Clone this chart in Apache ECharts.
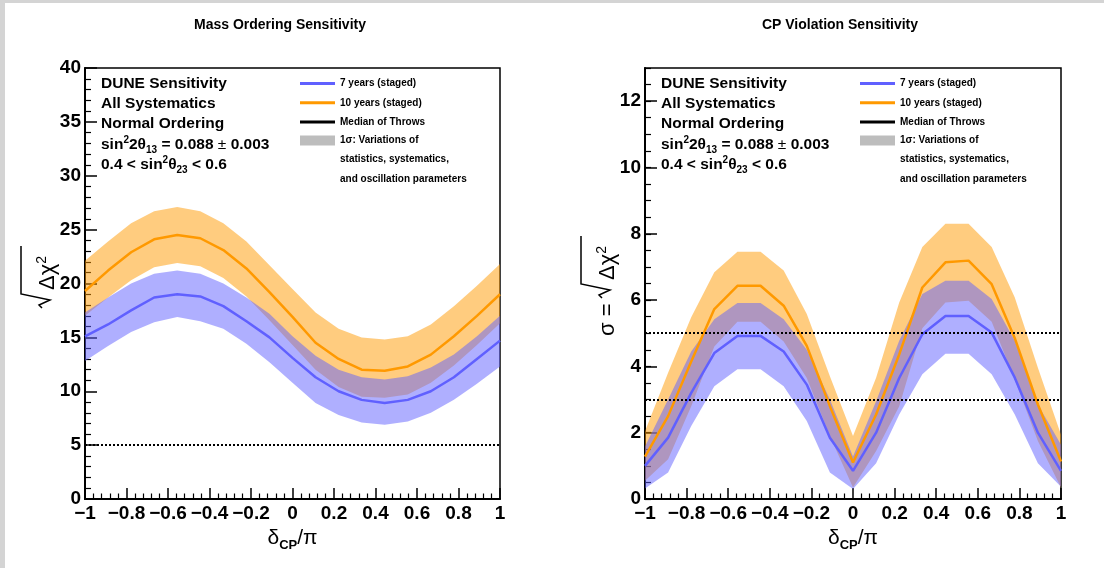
<!DOCTYPE html>
<html><head><meta charset="utf-8">
<script src="https://cdn.jsdelivr.net/npm/echarts@6/dist/echarts.min.js"></script>
<style>html,body{margin:0;padding:0;background:#fff}#c{width:1104px;height:568px}</style>
</head><body><div id="c"></div>
<script>
// ---------- data ----------
const deltaCP = [-1, -0.8889, -0.7778, -0.6667, -0.5556, -0.4444, -0.3333, -0.2222, -0.1111, 0, 0.1111, 0.2222, 0.3333, 0.4444, 0.5556, 0.6667, 0.7778, 0.8889, 1];
const xTicks = [-1, -0.8, -0.6, -0.4, -0.2, 0, 0.2, 0.4, 0.6, 0.8, 1];

// Mass ordering sensitivity (sqrt(dchi2))
const mo10Median = [19.3, 21.2, 22.9, 24.1, 24.5, 24.2, 23.1, 21.4, 19.2, 16.9, 14.5, 13.0, 12.0, 11.9, 12.3, 13.4, 15.1, 17.0, 19.0];
const mo10Upper  = [22.1, 23.9, 25.6, 26.7, 27.1, 26.7, 25.6, 23.9, 21.7, 19.5, 17.3, 15.8, 15.0, 14.8, 15.1, 16.2, 17.9, 19.8, 21.8];
const mo10Lower  = [17.0, 18.7, 20.3, 21.5, 21.9, 21.6, 20.5, 18.8, 16.6, 14.3, 12.0, 10.4, 9.5, 9.4, 9.7, 10.8, 12.4, 14.3, 16.3];
const mo7Median  = [15.1, 16.2, 17.5, 18.7, 19.0, 18.8, 17.9, 16.5, 15.0, 13.1, 11.3, 10.0, 9.2, 8.9, 9.2, 10.0, 11.3, 13.0, 14.7];
const mo7Upper   = [17.3, 18.7, 20.0, 20.9, 21.2, 20.9, 20.0, 18.7, 17.2, 15.1, 13.3, 12.0, 11.3, 11.1, 11.4, 12.2, 13.4, 15.1, 17.0];
const mo7Lower   = [12.8, 14.2, 15.5, 16.4, 16.9, 16.5, 15.8, 14.4, 12.7, 10.8, 8.9, 7.8, 7.1, 6.9, 7.2, 8.0, 9.2, 10.7, 12.3];
const moLevels   = [5];

// CP violation sensitivity (sigma)
const cp10Median = [1.28, 2.5, 4.15, 5.73, 6.43, 6.43, 5.83, 4.62, 2.8, 1.1, 2.55, 4.36, 6.38, 7.14, 7.19, 6.48, 4.85, 2.85, 1.13];
const cp10Upper  = [2.04, 3.81, 5.48, 6.84, 7.46, 7.46, 6.89, 5.58, 3.7, 1.9, 3.66, 5.93, 7.6, 8.3, 8.3, 7.6, 6.08, 3.96, 1.94];
const cp10Lower  = [0.55, 1.2, 2.8, 4.6, 5.35, 5.35, 4.75, 3.65, 1.9, 0.35, 1.45, 2.8, 5.15, 5.93, 5.98, 5.35, 3.6, 1.75, 0.35];
const cp7Median  = [1.0, 1.85, 3.2, 4.4, 4.92, 4.92, 4.45, 3.45, 1.85, 0.85, 2.0, 3.65, 4.97, 5.52, 5.52, 5.02, 3.66, 2.0, 0.85];
const cp7Upper   = [1.58, 3.0, 4.45, 5.42, 5.91, 5.91, 5.42, 4.5, 3.0, 1.28, 2.95, 4.77, 6.18, 6.58, 6.58, 6.03, 4.77, 2.85, 1.64];
const cp7Lower   = [0.32, 0.8, 2.2, 3.4, 3.91, 3.91, 3.4, 2.35, 0.8, 0.3, 1.08, 2.55, 3.76, 4.38, 4.38, 3.76, 2.55, 1.08, 0.37];
const cpLevels   = [3, 5];

const legendNames = ['7 years (staged)', '10 years (staged)', 'Median of Throws', '1\u03c3: Variations of'];
const legendExtra = ['statistics, systematics,', 'and oscillation parameters'];
const infoLines = ['DUNE Sensitivity', 'All Systematics', 'Normal Ordering'];

// ---------- styling ----------
const FONT = 'Liberation Sans, Arial, Helvetica, sans-serif';
const BLUE = '#6060ff', ORANGE = '#ff9900';
const BLUE_BAND = 'rgba(96,96,255,0.5)', ORANGE_BAND = 'rgba(255,153,0,0.5)';

function pairs(ys) { return deltaCP.map((x, i) => [x, ys[i]]); }
function fmtX(v) {
  if (Math.abs(v) < 1e-9) return '0';
  return String(+v.toFixed(1)).replace('-', '\u2212');
}
function band(name, gi, lo, hi, color) {
  return {
    type: 'custom', name: name, xAxisIndex: gi, yAxisIndex: gi, silent: true, clip: true,
    data: [[0, 0]],
    renderItem: function (params, api) {
      const pts = [];
      for (let i = 0; i < deltaCP.length; i++) pts.push(api.coord([deltaCP[i], hi[i]]));
      for (let i = deltaCP.length - 1; i >= 0; i--) pts.push(api.coord([deltaCP[i], lo[i]]));
      return { type: 'polygon', shape: { points: pts }, style: { fill: color } };
    }
  };
}
function line(name, gi, ys, color, levels) {
  const s = {
    type: 'line', name: name, xAxisIndex: gi, yAxisIndex: gi, data: pairs(ys),
    symbol: 'none', silent: true,
    itemStyle: { color: color }, lineStyle: { color: color, width: 2.5 }
  };
  if (levels) {
    s.markLine = {
      silent: true, symbol: 'none', label: { show: false },
      lineStyle: { color: '#000', width: 2, type: [2, 2] },
      data: levels.map(v => ({ yAxis: v }))
    };
  }
  return s;
}
function xAxis(gi) {
  return {
    type: 'value', gridIndex: gi, min: -1, max: 1, interval: 0.2,
    axisLine: { onZero: false, lineStyle: { color: '#000', width: 2 } },
    axisTick: { inside: true, length: 11, lineStyle: { color: '#000', width: 1.5 } },
    minorTick: { show: true, splitNumber: 5, length: 5.5, lineStyle: { color: '#000', width: 1.2 } },
    splitLine: { show: false },
    axisLabel: { color: '#000', fontSize: 19, fontWeight: 'bold', fontFamily: FONT, margin: 5, formatter: fmtX },
    name: '{d|\u03b4}{c|CP}{p|/\u03c0}', nameLocation: 'middle', nameGap: 22,
    nameTextStyle: {
      rich: {
        d: { fontSize: 21, fontFamily: FONT, color: '#000', lineHeight: 24, verticalAlign: 'top' },
        c: { fontSize: 13, fontWeight: 'bold', fontFamily: FONT, color: '#000', lineHeight: 36 },
        p: { fontSize: 21, fontFamily: FONT, color: '#000', lineHeight: 24, verticalAlign: 'top' }
      }
    }
  };
}
function yAxis(gi, max, interval, minorSplit, showMax) {
  return {
    type: 'value', gridIndex: gi, position: 'left', min: 0, max: max, interval: interval,
    axisLine: { onZero: false, lineStyle: { color: '#000', width: 2 } },
    axisTick: { inside: true, length: 12, lineStyle: { color: '#000', width: 1.5 } },
    minorTick: { show: minorSplit > 0, splitNumber: minorSplit || 5, length: 6, lineStyle: { color: '#000', width: 1.2 } },
    splitLine: { show: false },
    axisLabel: { color: '#000', fontSize: 19, fontWeight: 'bold', fontFamily: FONT, margin: 4, showMaxLabel: showMax }
  };
}
const legendText = { fontSize: 10, fontWeight: 'bold', fontFamily: FONT, color: '#000', lineHeight: 12 };
function legends(left) {
  return [
    { left: left, top: 77.5, orient: 'vertical', icon: 'rect', itemWidth: 35, itemHeight: 3, itemGap: 7.3, padding: 0,
      selectedMode: false, data: legendNames.slice(0, 3), textStyle: legendText },
    { left: left, top: 134.5, orient: 'vertical', icon: 'rect', itemWidth: 35, itemHeight: 10, padding: 0,
      selectedMode: false, data: legendNames.slice(3), textStyle: legendText }
  ];
}
const infoRich = {
  n: { fontSize: 15.5, fontWeight: 'bold', fontFamily: FONT, color: '#000', lineHeight: 20 },
  sp: { fontSize: 10, fontWeight: 'bold', fontFamily: FONT, color: '#000', lineHeight: 10, verticalAlign: 'top' },
  sb: { fontSize: 10, fontWeight: 'bold', fontFamily: FONT, color: '#000', lineHeight: 10, verticalAlign: 'bottom' },
  pm: { fontSize: 15.5, fontFamily: FONT, color: '#000', lineHeight: 20 }
};
function infoBlock(x) {
  const els = [];
  const ys = [84, 104, 124, 145, 165];
  infoLines.forEach((t, i) => els.push({ type: 'text', x: x, y: ys[i], style: { text: '{n|' + t + '}', rich: infoRich, verticalAlign: 'middle' } }));
  els.push({ type: 'text', x: x, y: ys[3], style: { text: '{n|sin}{sp|2}{n|2\u03b8}{sb|13}{n| = 0.088 }{pm|\u00b1}{n| 0.003}', rich: infoRich, verticalAlign: 'middle' } });
  els.push({ type: 'text', x: x, y: ys[4], style: { text: '{n|0.4 < sin}{sp|2}{n|\u03b8}{sb|23}{n| < 0.6}', rich: infoRich, verticalAlign: 'middle' } });
  return els;
}
function extraLegendText(x) {
  return legendExtra.map((t, i) => ({ type: 'text', x: x, y: 159.5 + 19.3 * i,
    style: { text: t, fontSize: 10, fontWeight: 'bold', fontFamily: FONT, fill: '#000', verticalAlign: 'middle' } }));
}
const titleRich = {
  a: { fontSize: 22, fontFamily: FONT, color: '#000', lineHeight: 26 },
  s: { fontSize: 14, fontFamily: FONT, color: '#000', lineHeight: 14, verticalAlign: 'top' }
};
function radical(x0) {
  return { type: 'polyline', shape: { points: [[x0, -4], [x0 + 3, -7], [x0 + 8, 4], [x0 + 14, -25], [x0 + 62, -25]] },
    style: { stroke: '#000', lineWidth: 1.5, fill: null } };
}

const chart = echarts.init(document.getElementById('c'), null, { renderer: 'canvas' });
chart.setOption({
  animation: false,
  backgroundColor: '#fff',
  grid: [
    { left: 85, top: 68, width: 415, height: 431, show: true, borderColor: '#000', borderWidth: 1.5, backgroundColor: 'transparent' },
    { left: 645, top: 68, width: 416, height: 431, show: true, borderColor: '#000', borderWidth: 1.5, backgroundColor: 'transparent' }
  ],
  xAxis: [xAxis(0), xAxis(1)],
  yAxis: [
    yAxis(0, 40, 5, 5, true),
    yAxis(1, 13, 2, 0, false),
    { type: 'value', gridIndex: 1, position: 'left', min: 0, max: 13, interval: 0.5,
      axisLine: { show: false, onZero: false }, axisLabel: { show: false }, splitLine: { show: false },
      axisTick: { inside: true, length: 6, lineStyle: { color: '#000', width: 1.2 } } }
  ],
  legend: legends(300).concat(legends(860)),
  series: [
    band('mo10band', 0, mo10Lower, mo10Upper, ORANGE_BAND),
    line(legendNames[1], 0, mo10Median, ORANGE),
    band('mo7band', 0, mo7Lower, mo7Upper, BLUE_BAND),
    line(legendNames[0], 0, mo7Median, BLUE, moLevels),
    band('cp10band', 1, cp10Lower, cp10Upper, ORANGE_BAND),
    line(legendNames[1], 1, cp10Median, ORANGE),
    band('cp7band', 1, cp7Lower, cp7Upper, BLUE_BAND),
    line(legendNames[0], 1, cp7Median, BLUE, cpLevels),
    { type: 'line', name: legendNames[2], xAxisIndex: 0, yAxisIndex: 0, data: [], symbol: 'none', itemStyle: { color: '#000' }, lineStyle: { color: '#000' } },
    { type: 'line', name: legendNames[3], xAxisIndex: 0, yAxisIndex: 0, data: [], symbol: 'none', itemStyle: { color: '#bdbdbd' }, lineStyle: { color: '#bdbdbd' } }
  ],
  graphic: [
    { type: 'rect', shape: { x: 0, y: 0, width: 5, height: 568 }, style: { fill: '#d4d4d4' }, silent: true },
    { type: 'rect', shape: { x: 0, y: 0, width: 1104, height: 3 }, style: { fill: '#d4d4d4' }, silent: true },
    { type: 'text', x: 280, y: 25, style: { text: 'Mass Ordering Sensitivity', fontSize: 14, fontWeight: 'bold', fontFamily: FONT, fill: '#000', align: 'center', verticalAlign: 'middle' } },
    { type: 'text', x: 840, y: 25, style: { text: 'CP Violation Sensitivity', fontSize: 14, fontWeight: 'bold', fontFamily: FONT, fill: '#000', align: 'center', verticalAlign: 'middle' } },
    { type: 'group', x: 46, y: 268, rotation: Math.PI / 2, children: [
      radical(-40),
      { type: 'text', x: -22, y: 2, style: { text: '{a|\u0394\u03c7}{s|2}', rich: titleRich, verticalAlign: 'middle' } }
    ] },
    { type: 'group', x: 606, y: 278, rotation: Math.PI / 2, children: [
      { type: 'text', x: -58, y: 2, style: { text: '{a|\u03c3 =}', rich: titleRich, verticalAlign: 'middle' } },
      radical(-20),
      { type: 'text', x: -2, y: 2, style: { text: '{a|\u0394\u03c7}{s|2}', rich: titleRich, verticalAlign: 'middle' } }
    ] }
  ].concat(infoBlock(101), infoBlock(661), extraLegendText(340), extraLegendText(900))
});
</script></body></html>
